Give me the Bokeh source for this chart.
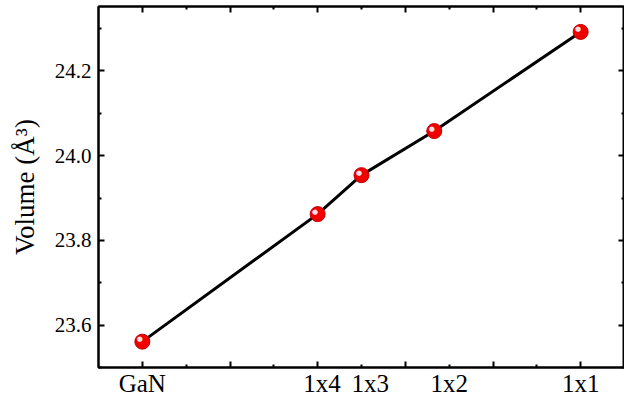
from bokeh.plotting import figure
from bokeh.models import LinearAxis, FixedTicker, ColumnDataSource, Range1d, CustomJSTickFormatter
from bokeh.core.properties import value
from bokeh.embed import file_html
from bokeh.resources import INLINE

# ---- data ----
structures = ["GaN", "1x4", "1x3", "1x2", "1x1"]
x_vals = [0, 2, 2.5, 3.33, 5]
volumes = [23.561, 23.862, 23.954, 24.058, 24.292]
label_positions = [0, 2.05, 2.6, 3.5, 5]
y_major = [23.6, 23.8, 24.0, 24.2]
y_labels = ["23.6", "23.8", "24.0", "24.2"]
y_minor = [23.5, 23.7, 23.9, 24.1, 24.3]
x_major = [0, 1, 2, 3, 4, 5]
x_minor = [0.5, 1.5, 2.5, 3.5, 4.5]

FONT = "Liberation Serif"

src = ColumnDataSource(dict(x=x_vals, y=volumes, hl=["\u25cf"] * len(x_vals)))

p = figure(frame_width=526, frame_height=361, output_backend="svg", toolbar_location=None,
           x_range=Range1d(-0.5, 5.5), y_range=Range1d(23.5, 24.352),
           x_axis_location=None, y_axis_location=None,
           min_border_left=98, min_border_right=0, min_border_top=6, min_border_bottom=0)
p.xgrid.visible = False
p.ygrid.visible = False
p.outline_line_color = "black"
p.outline_line_width = 2
p.background_fill_color = "white"
p.border_fill_color = "white"

blank = CustomJSTickFormatter(code="return '';")


def style_axis(ax, ticks, minor, show_labels):
    ax.ticker = FixedTicker(ticks=ticks, minor_ticks=minor)
    ax.axis_line_width = 2
    ax.axis_line_color = "black"
    ax.major_tick_line_width = 2
    ax.minor_tick_line_width = 2
    ax.major_tick_in = 6
    ax.major_tick_out = 0
    ax.minor_tick_in = 3
    ax.minor_tick_out = 0
    ax.major_label_text_font = FONT
    ax.major_label_text_color = "black"
    if not show_labels:
        ax.formatter = blank
        ax.major_label_text_font_size = "1px"
        ax.major_label_standoff = 0


# left axis with labels
yl = LinearAxis()
style_axis(yl, y_major, y_minor, True)
yl.major_label_overrides = {v: s for v, s in zip(y_major, y_labels)}
yl.major_label_text_font_size = "21px"
yl.major_label_standoff = 7
yl.axis_label = "Volume (\u00c5\u00b3)"
yl.axis_label_text_font = FONT
yl.axis_label_text_font_style = "normal"
yl.axis_label_text_color = "black"
yl.axis_label_text_font_size = "27px"
yl.axis_label_standoff = 12
p.add_layout(yl, "left")

# right mirror axis
yr = LinearAxis()
style_axis(yr, y_major, y_minor, False)
p.add_layout(yr, "right")

# top mirror axis
xt = LinearAxis()
style_axis(xt, x_major, x_minor, False)
p.add_layout(xt, "above")

# bottom ticks axis
xb = LinearAxis()
style_axis(xb, x_major, x_minor, False)
p.add_layout(xb, "below")

# bottom labels axis
xl = LinearAxis()
xl.ticker = FixedTicker(ticks=label_positions, minor_ticks=[])
xl.major_label_overrides = {pos: lab for pos, lab in zip(label_positions, structures)}
xl.axis_line_color = None
xl.major_tick_line_color = None
xl.minor_tick_line_color = None
xl.major_tick_in = 0
xl.major_tick_out = 0
xl.major_label_text_font = FONT
xl.major_label_text_font_size = "25px"
xl.major_label_text_color = "black"
xl.major_label_standoff = 2
p.add_layout(xl, "below")

# data
p.line("x", "y", source=src, line_color="black", line_width=3)
p.scatter("x", "y", source=src, size=15, fill_color="#f00000", line_color="#c00000", line_width=1)
p.text("x", "y", text="hl", source=src, text_font=value("DejaVu Sans"), text_font_size="7px",
       text_color="#ffdede", text_align="center", text_baseline="middle",
       x_offset=-2.5, y_offset=-2.5)

open("out.html", "w").write(file_html(p, INLINE))
